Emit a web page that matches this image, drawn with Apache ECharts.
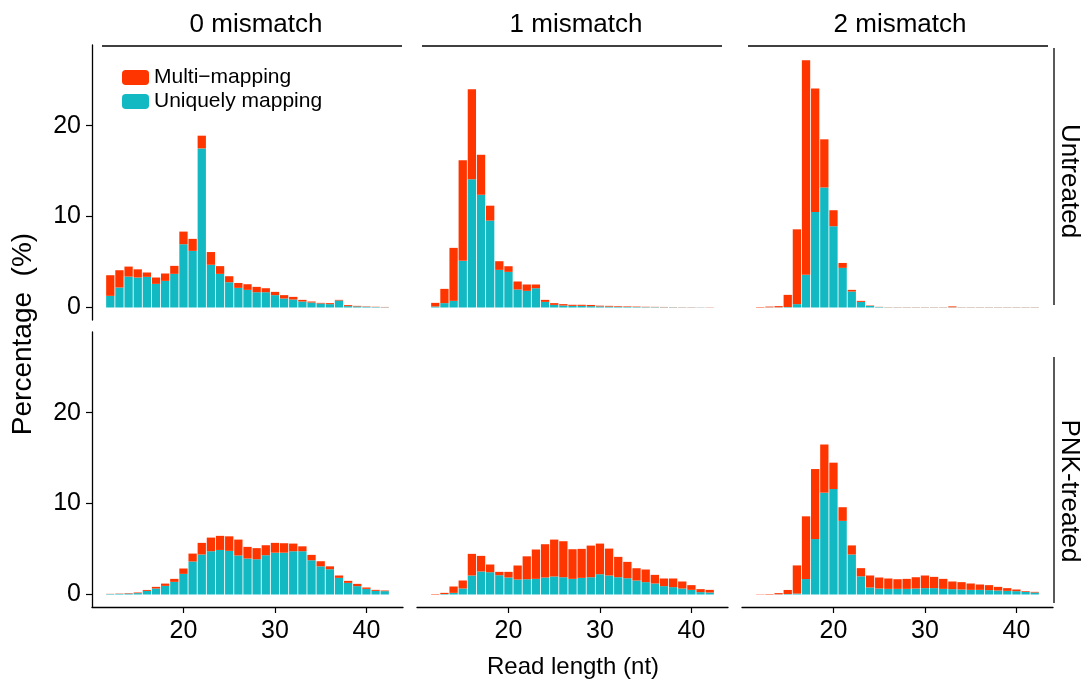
<!DOCTYPE html>
<html>
<head>
<meta charset="utf-8">
<script src="https://cdn.jsdelivr.net/npm/echarts@6/dist/echarts.min.js"></script>
<style>
  html, body { margin: 0; background: #fff; }
  #chart { width: 1084px; height: 686px; }
</style>
</head>
<body>
<div id="chart"></div>
<script>
// read length (nt) of the bars, and the axis span
var lengths = [12, 13, 14, 15, 16, 17, 18, 19, 20, 21, 22, 23, 24, 25, 26, 27, 28, 29, 30, 31, 32, 33, 34, 35, 36, 37, 38, 39, 40, 41, 42];
var axisLengths = ['10', '11', '12', '13', '14', '15', '16', '17', '18', '19', '20', '21', '22', '23', '24', '25', '26', '27', '28', '29', '30', '31', '32', '33', '34', '35', '36', '37', '38', '39', '40', '41', '42', '43', '44'];

// Untreated
var untreated0Unique = [1.28, 2.2, 3.4, 3.3, 3.37, 2.6, 2.93, 3.7, 6.96, 6.23, 17.5, 4.7, 3.7, 2.78, 2.16, 1.94, 1.68, 1.68, 1.36, 0.99, 0.88, 0.66, 0.55, 0.44, 0.37, 0.77, 0.15, 0.12, 0.08, 0.05, 0.03];
var untreated0Multi = [2.27, 1.9, 1.1, 0.9, 0.48, 0.7, 0.81, 0.88, 1.39, 1.32, 1.4, 1.4, 0.85, 0.66, 0.54, 0.62, 0.59, 0.44, 0.36, 0.37, 0.29, 0.18, 0.11, 0.07, 0.11, 0.07, 0.11, 0.06, 0.04, 0.03, 0.03];
var untreated1Unique = [0.11, 0.48, 0.73, 5.13, 14.1, 12.4, 9.56, 4.14, 3.92, 1.98, 1.83, 2.12, 0.62, 0.29, 0.22, 0.18, 0.18, 0.15, 0.12, 0.1, 0.08, 0.06, 0.05, 0.04, 0.04, 0.03, 0.03, 0.02, 0.02, 0.02, 0.01];
var untreated1Multi = [0.4, 1.57, 5.83, 11.07, 9.9, 4.4, 1.64, 0.95, 0.62, 0.88, 0.7, 0.41, 0.22, 0.19, 0.15, 0.12, 0.12, 0.13, 0.08, 0.08, 0.07, 0.06, 0.05, 0.04, 0.03, 0.03, 0.02, 0.02, 0.02, 0.01, 0.02];
var untreated2Unique = [0, 0.02, 0.02, 0.05, 0.37, 3.6, 10.5, 13.2, 8.94, 4.36, 1.76, 0.62, 0.18, 0.05, 0.02, 0.02, 0.02, 0.02, 0.02, 0.02, 0.02, 0.02, 0.02, 0.02, 0.02, 0.02, 0.02, 0.02, 0.02, 0.02, 0.02];
var untreated2Multi = [0.05, 0.08, 0.13, 1.34, 8.23, 23.6, 13.6, 5.3, 1.76, 0.54, 0.18, 0.11, 0.04, 0.02, 0.02, 0.02, 0.02, 0.02, 0.02, 0.02, 0.02, 0.1, 0.02, 0.02, 0.02, 0.02, 0.02, 0.02, 0.02, 0.02, 0.02];

// PNK-treated
var pnk0Unique = [0.05, 0.07, 0.1, 0.15, 0.4, 0.66, 0.95, 1.39, 2.27, 3.63, 4.4, 4.76, 4.9, 4.8, 4.29, 3.96, 3.88, 4.32, 4.6, 4.6, 4.76, 4.76, 3.77, 3.1, 2.78, 1.83, 1.28, 0.92, 0.62, 0.4, 0.37];
var pnk0Multi = [0.02, 0.03, 0.05, 0.07, 0.1, 0.18, 0.25, 0.33, 0.59, 0.87, 1.28, 1.5, 1.55, 1.6, 1.75, 1.28, 1.22, 1.1, 1.08, 1.04, 0.84, 0.54, 0.59, 0.56, 0.32, 0.26, 0.22, 0.25, 0.15, 0.11, 0.07];
var pnk1Unique = [0, 0.05, 0.18, 0.66, 2.09, 2.53, 2.45, 2.12, 1.87, 1.65, 1.68, 1.72, 1.87, 1.98, 1.9, 1.72, 1.83, 1.9, 2.23, 2.09, 1.9, 1.79, 1.54, 1.36, 1.21, 0.92, 0.81, 0.66, 0.51, 0.26, 0.22];
var pnk1Multi = [0.05, 0.13, 0.7, 0.88, 2.38, 1.72, 0.85, 0.37, 0.62, 1.54, 2.52, 3.23, 3.66, 4.06, 3.96, 3.26, 3.19, 3.48, 3.37, 2.96, 2.24, 1.8, 1.35, 1.39, 0.95, 0.84, 0.95, 0.77, 0.52, 0.33, 0.29];
var pnk2Unique = [0, 0, 0.02, 0.05, 0.1, 1.7, 6.1, 11.2, 11.6, 8.1, 4.4, 2.0, 0.77, 0.66, 0.62, 0.62, 0.62, 0.66, 0.7, 0.7, 0.62, 0.59, 0.55, 0.51, 0.51, 0.48, 0.44, 0.4, 0.37, 0.29, 0.22];
var pnk2Multi = [0.03, 0.05, 0.13, 0.45, 3.1, 6.9, 7.7, 5.3, 2.9, 1.5, 1.0, 0.9, 1.32, 1.21, 1.14, 1.06, 1.1, 1.24, 1.39, 1.24, 1.1, 0.84, 0.81, 0.7, 0.59, 0.55, 0.4, 0.3, 0.18, 0.08, 0.07];

var colTitles = ['0 mismatch', '1 mismatch', '2 mismatch'];
var rowTitles = ['Untreated', 'PNK-treated'];
var yTicks = [0, 10, 20];
var xTicks = ['20', '30', '40'];

var panels = [
  [untreated0Unique, untreated0Multi],
  [untreated1Unique, untreated1Multi],
  [untreated2Unique, untreated2Multi],
  [pnk0Unique, pnk0Multi],
  [pnk1Unique, pnk1Multi],
  [pnk2Unique, pnk2Multi]
];

var FONT = '"Liberation Sans", Arial, Helvetica, sans-serif';
var RED = '#FF3500';
var TEAL = '#13B9C2';

var gridLefts = [92, 417, 742];
var gridTops = [45, 332];

var grids = [], xAxes = [], yAxes = [], series = [];

function pairs(arr) {
  return lengths.map(function (l, k) { return [String(l), arr[k]]; });
}
function isTick(idx, val) {
  return xTicks.indexOf(String(val)) >= 0;
}

panels.forEach(function (p, i) {
  var row = Math.floor(i / 3), col = i % 3;
  grids.push({ left: gridLefts[col], top: gridTops[row], width: 311, height: 275 });
  xAxes.push({
    type: 'category', gridIndex: i, data: axisLengths, boundaryGap: false,
    show: row === 1,
    axisLine: { onZero: false, lineStyle: { color: '#000', width: 1.3 } },
    axisTick: { interval: isTick, length: 6, lineStyle: { color: '#000', width: 1.2 } },
    axisLabel: { interval: isTick, fontSize: 25, color: '#000', margin: 12, fontFamily: FONT },
    splitLine: { show: false }
  });
  yAxes.push({
    type: 'value', gridIndex: i, min: -1.375, max: 28.875,
    show: col === 0,
    axisLine: { show: true, onZero: false, lineStyle: { color: '#000', width: 1.3 } },
    axisTick: { show: true, customValues: yTicks, length: 6, lineStyle: { color: '#000', width: 1.2 } },
    axisLabel: { customValues: yTicks, fontSize: 25, color: '#000', margin: 11, fontFamily: FONT },
    splitLine: { show: false }
  });
  series.push({
    name: 'Uniquely mapping', type: 'bar', xAxisIndex: i, yAxisIndex: i,
    stack: 'p' + i, barWidth: 8.3,
    itemStyle: { color: TEAL },
    data: pairs(p[0])
  });
  series.push({
    name: 'Multi\u2212mapping', type: 'bar', xAxisIndex: i, yAxisIndex: i,
    stack: 'p' + i, barWidth: 8.3,
    itemStyle: { color: RED },
    data: pairs(p[1])
  });
});

// facet strips and axis titles
var stripLines = [[102, 402], [422, 722], [748, 1048]];
var stripCenters = [256, 576, 900];
var graphics = [];
colTitles.forEach(function (t, c) {
  graphics.push({ type: 'line', shape: { x1: stripLines[c][0], y1: 46, x2: stripLines[c][1], y2: 46 },
    style: { stroke: '#000', lineWidth: 1.3 } });
  graphics.push({ type: 'text', x: stripCenters[c], y: 25,
    style: { text: t, font: '26px ' + FONT, fill: '#000', textAlign: 'center', textVerticalAlign: 'middle' } });
});
var rowLines = [[48, 305], [357, 603]];
var rowCenters = [181, 491];
rowTitles.forEach(function (t, r) {
  graphics.push({ type: 'line', shape: { x1: 1054, y1: rowLines[r][0], x2: 1054, y2: rowLines[r][1] },
    style: { stroke: '#000', lineWidth: 1.3 } });
  graphics.push({ type: 'text', x: 1069, y: rowCenters[r], rotation: -Math.PI / 2,
    style: { text: t, font: '26px ' + FONT, fill: '#000', textAlign: 'center', textVerticalAlign: 'middle' } });
});
graphics.push({ type: 'text', x: 23, y: 334, rotation: Math.PI / 2,
  style: { text: 'Percentage  (%)', font: '28px ' + FONT, fill: '#000', textAlign: 'center', textVerticalAlign: 'middle' } });
graphics.push({ type: 'text', x: 573, y: 667,
  style: { text: 'Read length (nt)', font: '24px ' + FONT, fill: '#000', textAlign: 'center', textVerticalAlign: 'middle' } });

var chart = echarts.init(document.getElementById('chart'));
chart.setOption({
  animation: false,
  backgroundColor: '#fff',
  legend: {
    data: ['Multi\u2212mapping', 'Uniquely mapping'],
    orient: 'vertical', left: 122, top: 67, padding: 0,
    itemWidth: 27, itemHeight: 15, itemGap: 3,
    icon: 'roundRect', selectedMode: false,
    textStyle: { fontSize: 21, color: '#000', fontFamily: FONT }
  },
  grid: grids,
  xAxis: xAxes,
  yAxis: yAxes,
  series: series,
  graphic: graphics
});
</script>
</body>
</html>
